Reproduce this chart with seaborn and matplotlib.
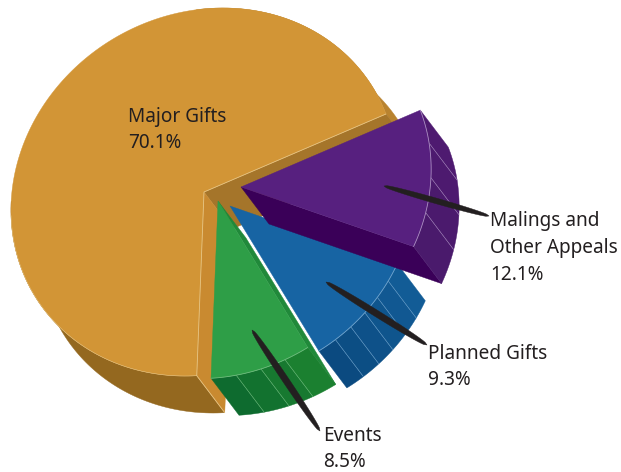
"""
Exploded 3D style pie of giving sources, with brush stroke leaders.
"""

import numpy as np
import matplotlib
matplotlib.use('Agg')
import matplotlib.pyplot as plt
import seaborn as sns

# Data
slice_names = ['Major Gifts', 'Events', 'Planned Gifts', 'Malings and\nOther Appeals']
share_labels = ['70.1%', '8.5%', '9.3%', '12.1%']
# shares as drawn in the picture, these differ a little from the printed labels
slice_shares = [69.0, 8.6, 10.1, 12.3]

# Styles, same order as the data
top_colors = ['#d29536', '#2e9e47', '#1764a3', '#57207f']
band_dark = ['#94681f', '#0e6b2f', '#0b4a80', '#4a1a6c']
band_light = ['#94681f', '#1b8030', '#125c96', '#4e1a70']
cut_colors = ['#a5752a', '#20893a', '#1764a3', '#3a0058']
line_colors = ['#e6c483', '#6dbb7c', '#6fa3cd', '#a98cc0']
band_counts = [1, 4, 6, 4]
apexes = [(204, 192), (218, 201), (230, 206), (241, 187)]
scales = [1.0, 0.965, 0.955, 0.985]

start_angle = 22.2
depth = np.array([28.0, 37.0])
semi_major, semi_minor, tilt = 198.6, 178.0, np.radians(32)


def rim(angles, apex, scale):
    """Rim points of the tilted ellipse for angles in degrees (pixel coords)"""
    t = np.radians(angles) - tilt
    u = semi_major * np.cos(t) * scale
    v = semi_minor * np.sin(t) * scale
    x = u * np.cos(tilt) - v * np.sin(tilt)
    y = u * np.sin(tilt) + v * np.cos(tilt)
    return np.column_stack([apex[0] + x, apex[1] - y])


def face(ax, pts, color, zorder):
    ax.fill(pts[:, 0], pts[:, 1], color=color, lw=0.3, zorder=zorder)


def thin_line(ax, pts, color, zorder, lw=0.6):
    sns.lineplot(x=pts[:, 0], y=pts[:, 1], sort=False, estimator=None, color=color,
                 lw=lw, zorder=zorder, ax=ax, legend=False)


def side_strip(ax, angles, apex, scale, color, zorder):
    arc = rim(angles, apex, scale)
    face(ax, np.vstack([arc, (arc + depth)[::-1]]), color, zorder)


def brush_stroke(ax, start, end, width, zorder=30):
    """Tapered leader, thin at both ends"""
    start, end = np.array(start, float), np.array(end, float)
    s = np.linspace(0, 1, 40)
    w = width * np.sin(np.pi * s) ** 0.35 / 2
    along = end - start
    normal = np.array([-along[1], along[0]]) / np.hypot(*along)
    mid = start + s[:, None] * along
    pts = np.vstack([mid + normal * w[:, None], (mid - normal * w[:, None])[::-1]])
    face(ax, pts, '#231f20', zorder)


sns.set_theme(style='white')
plt.rcParams['font.family'] = ['Noto Sans', 'DejaVu Sans']

fig = plt.figure(figsize=(6.21, 4.72), dpi=100)
ax = fig.add_axes([0, 0, 1, 1])

# Angles come from the shares
spans = np.array(slice_shares) / sum(slice_shares) * 360
starts = start_angle + np.concatenate([[0], np.cumsum(spans)[:-1]])
ends = starts + spans

# Major Gifts: outer side, cut faces, then the top
a0, a1 = starts[0], ends[0]
apex = np.array(apexes[0], float)
side_strip(ax, np.linspace(a0, 95, 40), apex, 1.0, '#b9832f', 1)
side_strip(ax, np.linspace(180, a1, 80), apex, 1.0, band_dark[0], 1)
first = rim([a0], apex, 1.0)[0]
last = rim([a1], apex, 1.0)[0]
face(ax, np.array([apex, first, first + depth, apex + depth]), cut_colors[0], 2)
face(ax, np.array([apex, last, last + depth, apex + depth]), '#c98a30', 2)
arc = rim(np.linspace(a0, a1, 200), apex, 1.0)
face(ax, np.vstack([apex, arc]), top_colors[0], 3)
thin_line(ax, np.vstack([first, apex, last]), line_colors[0], 4)
thin_line(ax, np.array([last, last + depth]), line_colors[0], 4)
thin_line(ax, arc[-70:], line_colors[0], 4, lw=0.4)

# The three pulled out slices
for i in range(1, len(slice_names)):
    zb = 5 + i * 5
    apex = np.array(apexes[i], float)
    scale = scales[i]
    first = rim([starts[i]], apex, scale)[0]
    last = rim([ends[i]], apex, scale)[0]
    # cut face towards the viewer
    if i == 1:
        face(ax, np.array([apex, last, last + depth, apex + depth]), cut_colors[i], zb)
    if i == 3:
        face(ax, np.array([apex, first, first + depth, apex + depth]), cut_colors[i], zb)
    # rim side in shaded bands
    edges = np.linspace(starts[i], ends[i], band_counts[i] + 1)
    shades = sns.blend_palette([band_dark[i], band_light[i]], band_counts[i])
    for j in range(band_counts[i]):
        side_strip(ax, np.linspace(edges[j], edges[j + 1], 20), apex, scale, shades[j], zb)
    for e in edges[1:-1]:
        p = rim([e], apex, scale)[0]
        thin_line(ax, np.array([p, p + depth]), line_colors[i], zb + 1, lw=0.4)
    arc = rim(np.linspace(starts[i], ends[i], 60), apex, scale)
    face(ax, np.vstack([apex, arc]), top_colors[i], zb + 2)
    thin_line(ax, arc, line_colors[i], zb + 3, lw=0.6)

# Leaders and labels
brush_stroke(ax, (384, 186), (489, 216), 5.5)
brush_stroke(ax, (326, 282), (427, 345), 6.5)
brush_stroke(ax, (252, 330), (320, 431), 6.5)

label_xy = [(128, 130), (323, 449), (428, 367), (490, 248)]
for name, pct, (x, y) in zip(slice_names, share_labels, label_xy):
    ax.text(x, y, name + '\n' + pct, ha='left', va='center', fontsize=13.7,
            color='#231f20', linespacing=1.46, zorder=40)

ax.set_xlim(0, 621)
ax.set_ylim(472, 0)
ax.axis('off')
fig.savefig('out.png', dpi=100, facecolor='white')
